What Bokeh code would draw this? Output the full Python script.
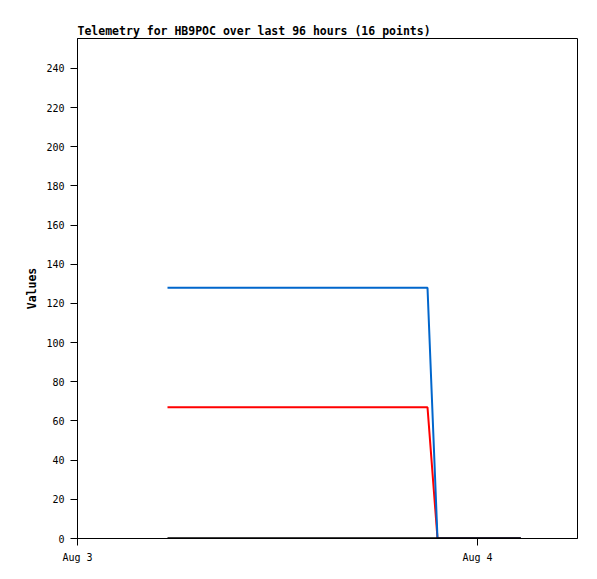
import pandas as pd
from bokeh.plotting import figure
from bokeh.models import FixedTicker, DatetimeTickFormatter, Range1d
from bokeh.embed import file_html
from bokeh.resources import INLINE

# Data
times = ["2023-08-03 05:24", "2023-08-03 21:00", "2023-08-03 21:36", "2023-08-04 02:36"]
blue_values = [128, 128, 0, 0]
red_values = [67, 67, 0, 0]
black_values = [0, 0, 0, 0]
x_ticks = ["2023-08-03 00:00", "2023-08-04 00:00"]
x_start, x_end = "2023-08-03 00:00", "2023-08-04 06:00"
y_ticks = list(range(0, 241, 20))

t = pd.to_datetime(times)
tick_ms = [pd.Timestamp(s).value / 1e6 for s in x_ticks]

FONT = "DejaVu Sans Mono"

p = figure(width=588, height=570, x_axis_type="datetime", output_backend="svg",
           toolbar_location=None, title="Telemetry for HB9POC over last 96 hours (16 points)",
           x_range=Range1d(pd.Timestamp(x_start), pd.Timestamp(x_end)),
           y_range=Range1d(0, 255.3),
           min_border_left=77, min_border_right=11, min_border_top=38, min_border_bottom=32)

p.title.text_font = FONT
p.title.text_font_style = "bold"
p.title.text_font_size = "11.5px"
p.title.text_color = "black"
p.title.align = "left"
p.title.offset = 0
p.title.standoff = 2

p.outline_line_color = "black"
p.outline_line_width = 1
p.xgrid.visible = False
p.ygrid.visible = False

p.line(t, red_values, line_color="#ff0000", line_width=2)
p.line(t, blue_values, line_color="#0066cc", line_width=2)
p.line(t, black_values, line_color="black", line_width=2.5)

p.yaxis.ticker = FixedTicker(ticks=y_ticks)
p.xaxis.ticker = FixedTicker(ticks=tick_ms)
p.xaxis.formatter = DatetimeTickFormatter(days="%b %-d", hours="%b %-d", months="%b %-d",
                                          minutes="%b %-d", hourmin="%b %-d")
for ax in (p.xaxis[0], p.yaxis[0]):
    ax.axis_line_color = "black"
    ax.major_tick_line_color = "black"
    ax.major_tick_out = 7
    ax.major_tick_in = 0
    ax.minor_tick_line_color = None
    ax.major_label_text_font = FONT
    ax.major_label_text_font_size = "10px"
    ax.major_label_text_color = "black"

p.yaxis.axis_label = "Values"
p.yaxis.axis_label_text_font = FONT
p.yaxis.axis_label_text_font_style = "bold"
p.yaxis.axis_label_text_font_size = "11.5px"
p.yaxis.axis_label_text_color = "black"
p.yaxis.axis_label_standoff = 4
p.yaxis.major_label_standoff = 6
p.xaxis.major_label_standoff = 6

open("out.html", "w").write(file_html(p, INLINE))
